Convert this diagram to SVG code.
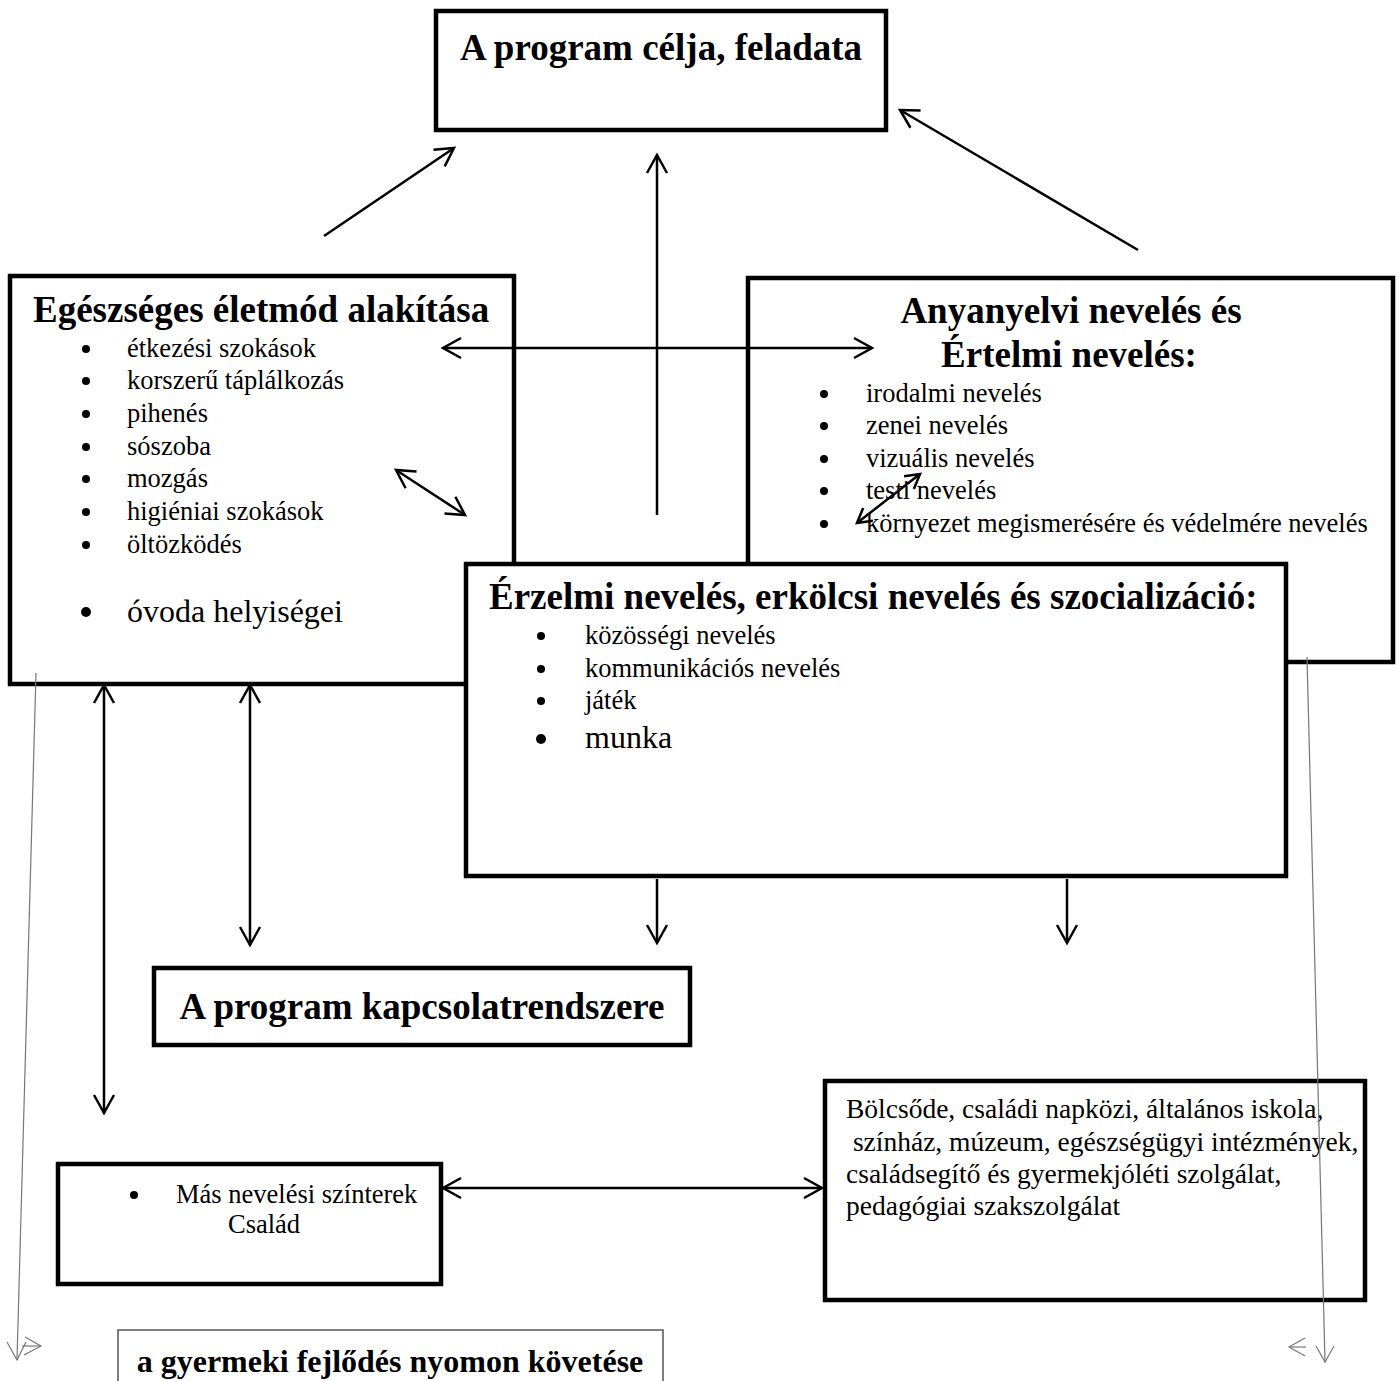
<svg xmlns="http://www.w3.org/2000/svg" width="1400" height="1381" viewBox="0 0 1400 1381">
<defs>
<style>
.box{fill:#fff;stroke:#000;stroke-width:4.5}
.t{font-family:"Liberation Serif","Times New Roman",serif;fill:#000}
.h{font-weight:bold;font-size:37px}
.i{font-size:26.5px}
.b{font-size:27.5px}
.big{font-size:32px}
.con{stroke:#000;stroke-width:2.5;fill:none}
.thin{stroke:#777;stroke-width:1.2;fill:none}
</style>
<marker id="ah" viewBox="-2 -2 24 24" refX="18" refY="10" markerWidth="24" markerHeight="24" markerUnits="userSpaceOnUse" orient="auto-start-reverse" overflow="visible">
<path d="M0,0 L18,10 L0,20" fill="none" stroke="#000" stroke-width="2.5"/>
</marker>
<marker id="as" viewBox="-2 -2 20 20" refX="14" refY="8" markerWidth="20" markerHeight="20" markerUnits="userSpaceOnUse" orient="auto-start-reverse" overflow="visible">
<path d="M0,0 L14,8 L0,16" fill="none" stroke="#000" stroke-width="2.5"/>
</marker>
</defs>

<g id="node-top">
<rect class="box" x="436" y="11" width="450" height="119"/>
<text class="t h" x="661" y="60" text-anchor="middle">A program célja, feladata</text>
</g>

<g id="node-egeszseg">
<rect class="box" x="10" y="276" width="504" height="408"/>
<text class="t h" x="33" y="322">Egészséges életmód alakítása</text>
<g fill="#000">
<circle cx="86" cy="349" r="4"/><circle cx="86" cy="381" r="4"/><circle cx="86" cy="414" r="4"/><circle cx="86" cy="447" r="4"/><circle cx="86" cy="479" r="4"/><circle cx="86" cy="512" r="4"/><circle cx="86" cy="545" r="4"/><circle cx="86" cy="612" r="5"/>
</g>
<text class="t i" x="127" y="357">étkezési szokások</text>
<text class="t i" x="127" y="389">korszerű táplálkozás</text>
<text class="t i" x="127" y="422">pihenés</text>
<text class="t i" x="127" y="455">sószoba</text>
<text class="t i" x="127" y="487">mozgás</text>
<text class="t i" x="127" y="520">higiéniai szokások</text>
<text class="t i" x="127" y="553">öltözködés</text>
<text class="t big" x="127" y="622">óvoda helyiségei</text>
</g>

<g id="node-anyanyelvi">
<rect class="box" x="748" y="278" width="645" height="384"/>
<text class="t h" x="1071" y="323" text-anchor="middle">Anyanyelvi nevelés és</text>
<text class="t h" x="1069" y="367" text-anchor="middle">Értelmi nevelés:</text>
<g fill="#000">
<circle cx="824" cy="394" r="4"/><circle cx="824" cy="426" r="4"/><circle cx="824" cy="459" r="4"/><circle cx="824" cy="491" r="4"/><circle cx="824" cy="524" r="4"/>
</g>
<text class="t i" x="866" y="402">irodalmi nevelés</text>
<text class="t i" x="866" y="434">zenei nevelés</text>
<text class="t i" x="866" y="467">vizuális nevelés</text>
<text class="t i" x="866" y="499">testi nevelés</text>
<text class="t i" x="866" y="532">környezet megismerésére és védelmére nevelés</text>
</g>

<g id="node-erzelmi">
<rect class="box" x="466" y="564" width="820" height="312"/>
<text class="t h" x="489" y="609">Érzelmi nevelés, erkölcsi nevelés és szocializáció:</text>
<g fill="#000">
<circle cx="541" cy="636" r="4"/><circle cx="541" cy="669" r="4"/><circle cx="541" cy="701" r="4"/><circle cx="541" cy="739" r="5"/>
</g>
<text class="t i" x="585" y="644">közösségi nevelés</text>
<text class="t i" x="585" y="677">kommunikációs nevelés</text>
<text class="t i" x="585" y="709">játék</text>
<text class="t big" x="585" y="748">munka</text>
</g>

<g id="node-kapcsolat">
<rect class="box" x="154" y="968" width="536" height="77"/>
<text class="t h" x="422" y="1019" text-anchor="middle">A program kapcsolatrendszere</text>
</g>

<g id="node-mas">
<rect class="box" x="58" y="1164" width="383" height="120"/>
<circle cx="134" cy="1195" r="4" fill="#000"/>
<text class="t i" x="176" y="1203">Más nevelési színterek</text>
<text class="t i" x="228" y="1233">Család</text>
</g>

<g id="node-bolcsode">
<rect class="box" x="825" y="1081" width="540" height="219"/>
<text class="t b" x="846" y="1118">Bölcsőde, családi napközi, általános iskola,</text>
<text class="t b" x="846" y="1151" xml:space="preserve"> színház, múzeum, egészségügyi intézmények,</text>
<text class="t b" x="846" y="1183">családsegítő és gyermekjóléti szolgálat,</text>
<text class="t b" x="846" y="1215">pedagógiai szakszolgálat</text>
</g>

<g id="node-fejlodes">
<rect x="118" y="1330" width="545" height="80" fill="#fff" stroke="#555" stroke-width="1.5"/>
<text class="t" x="390" y="1372" text-anchor="middle" font-weight="bold" font-size="32">a gyermeki fejlődés nyomon követése</text>
</g>

<g id="connectors">
<line class="con" x1="324" y1="236" x2="454" y2="148" marker-end="url(#ah)"/>
<line class="con" x1="657" y1="515" x2="657" y2="155" marker-end="url(#ah)"/>
<line class="con" x1="1138" y1="250" x2="900" y2="110" marker-end="url(#ah)"/>
<line class="con" x1="443" y1="348" x2="872" y2="348" marker-start="url(#ah)" marker-end="url(#ah)"/>
<line class="con" x1="396" y1="470" x2="465" y2="515" marker-start="url(#ah)" marker-end="url(#ah)"/>
<line class="con" x1="857" y1="523" x2="920" y2="474" marker-start="url(#as)" marker-end="url(#as)"/>
<line class="con" x1="104" y1="685" x2="104" y2="1113" marker-start="url(#ah)" marker-end="url(#ah)"/>
<line class="con" x1="250" y1="685" x2="250" y2="945" marker-start="url(#ah)" marker-end="url(#ah)"/>
<line class="con" x1="657" y1="879" x2="657" y2="943" marker-end="url(#ah)"/>
<line class="con" x1="1067" y1="879" x2="1067" y2="943" marker-end="url(#ah)"/>
<line class="con" x1="443" y1="1188" x2="822" y2="1188" marker-start="url(#ah)" marker-end="url(#ah)"/>
<line class="thin" x1="36" y1="673" x2="17" y2="1360"/>
<polyline class="thin" points="7,1342 17,1360 26,1342"/>
<line class="thin" x1="22" y1="1346" x2="41" y2="1346"/>
<polyline class="thin" points="25,1337 41,1346 24,1355"/>
<line class="thin" x1="1307" y1="657" x2="1325" y2="1362"/>
<polyline class="thin" points="1316,1346 1325,1362 1334,1346"/>
<line class="thin" x1="1289" y1="1347" x2="1306" y2="1347"/>
<polyline class="thin" points="1305,1338 1289,1347 1305,1356"/>
</g>
</svg>
